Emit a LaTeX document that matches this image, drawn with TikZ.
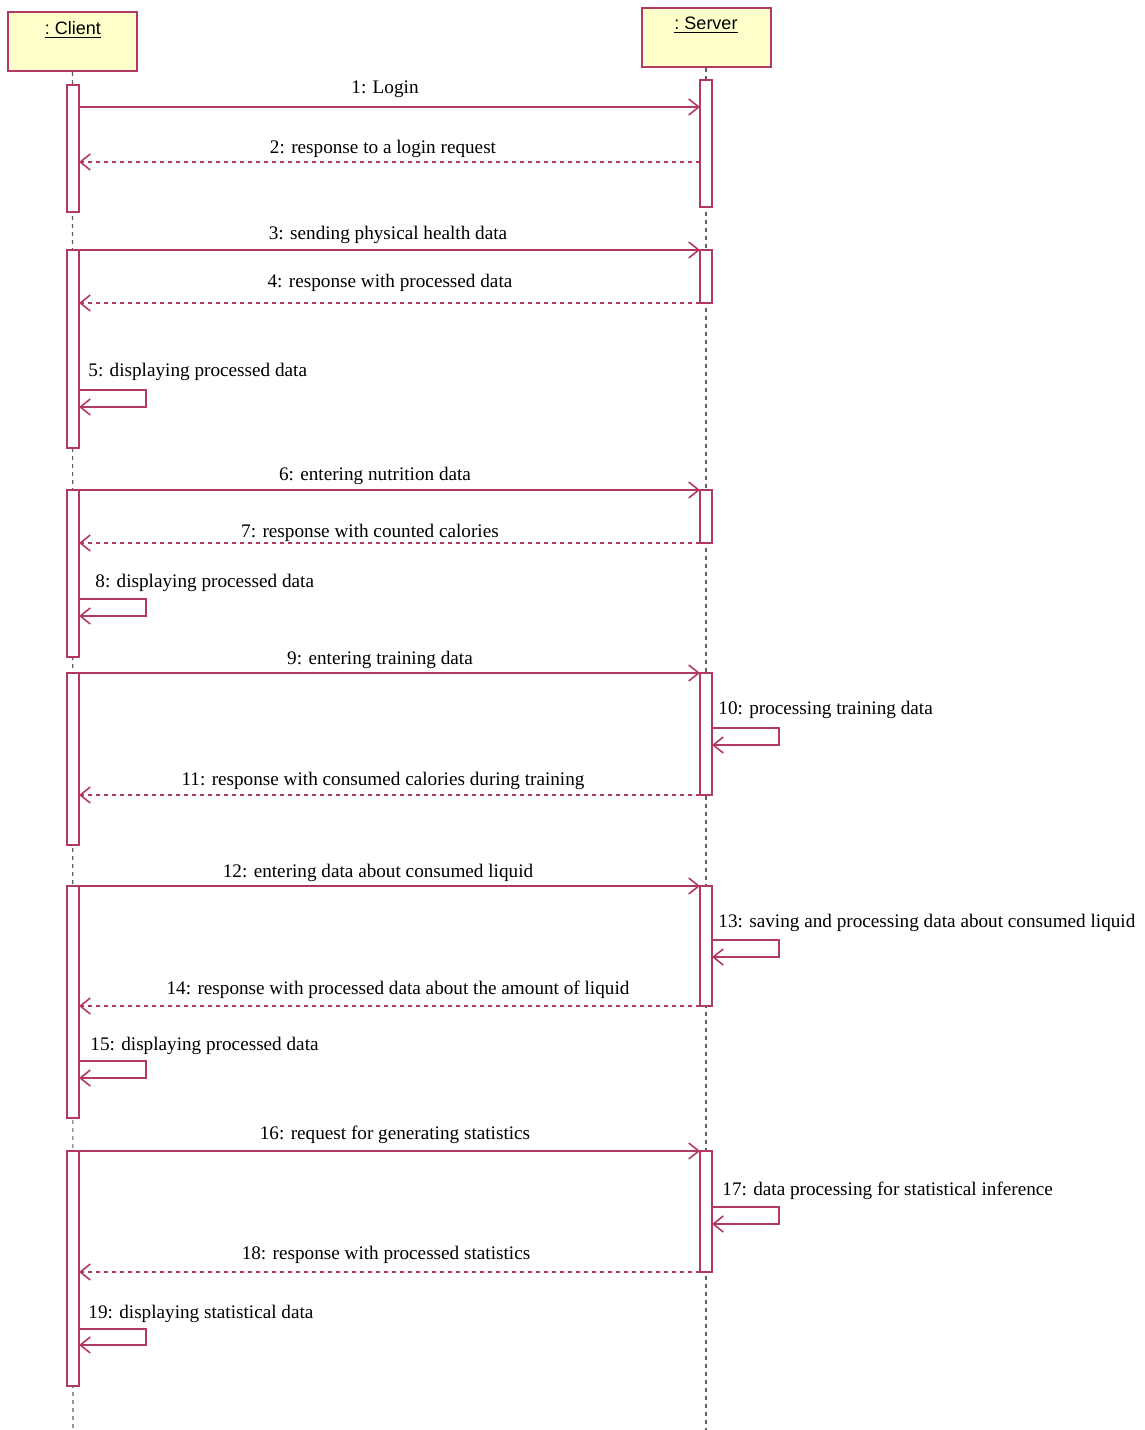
\documentclass[tikz,border=0pt]{standalone}
\usepackage{fontspec}
\setmainfont{Liberation Serif}
\newfontfamily\headfont{Liberation Sans}
\usetikzlibrary{arrows.meta}
\definecolor{umlline}{RGB}{178,58,98}
\definecolor{umlfill}{RGB}{255,255,204}
\definecolor{lifegray}{RGB}{95,95,95}
\tikzset{
  objbox/.style={draw=umlline,fill=umlfill,line width=1pt,minimum width=64.5pt,minimum height=29.5pt,inner sep=0pt},
  objname/.style={font=\headfont\fontsize{9}{10}\selectfont,inner sep=0pt},
  lifeline/.style={draw=lifegray,line width=.6pt,dash pattern=on 2pt off 2pt},
  actbar/.style={draw=umlline,fill=white,line width=.8pt},
  call/.style={draw=umlline,line width=.8pt,-{Straight Barb[length=5pt,width=8pt]}},
  reply/.style={call,dash pattern=on 2pt off 2pt},
  msg/.style={font=\fontsize{9.6}{11}\selectfont,inner sep=0pt,anchor=base},
  selfmsg/.style={msg,anchor=base west},
}
\begin{document}
\begin{tikzpicture}[x=.5pt,y=-.5pt]
  \useasboundingbox (0,0) rectangle (1145,1430);
  \node[objbox] (client) at (72.5,41.5) {};
  \node[objbox] (server) at (706,37) {};
  \node[objname] (clientname) at (73,30) {\underline{:\ Client}};
  \node[objname] (servername) at (706,25) {\underline{:\ Server}};
  \coordinate (clientend) at (73,1430);
  \coordinate (serverend) at (706,1430);
  \draw[lifeline] (client.south) -- (clientend);
  \draw[lifeline] (server.south) -- (serverend);
  \foreach \ya/\yb in {85/212,250/448,490/657,673/845,886/1118,1151/1386}
    \draw[actbar] (67,\ya) rectangle (79,\yb);
  \foreach \ya/\yb in {80/207,250/303,490/543,673/795,886/1006,1151/1272}
    \draw[actbar] (700,\ya) rectangle (712,\yb);
  \foreach \n/\y/\lx/\ly/\txt in {1/107/385/93/1: Login,
      3/250/388/239/3: sending physical health data,
      6/490/375/480/6: entering nutrition data,
      9/673/380/664/9: entering training data,
      12/886/378/877/12: entering data about consumed liquid,
      16/1151/395/1139/16: request for generating statistics}{
    \coordinate (c\n) at (79,\y);
    \coordinate (s\n) at (700,\y);
    \draw[call] (c\n) -- (s\n);
    \node[msg] (m\n) at (\lx,\ly) {\txt};
  }
  \foreach \n/\y/\lx/\ly/\txt in {2/162/383/153/2: response to a login request,
      4/303/390/287/4: response with processed data,
      7/543/370/537/7: response with counted calories,
      11/795/383/785/11: response with consumed calories during training,
      14/1006/398/994/14: response with processed data about the amount of liquid,
      18/1272/386/1259/18: response with processed statistics}{
    \coordinate (s\n) at (700,\y);
    \coordinate (c\n) at (79,\y);
    \draw[reply] (s\n) -- (c\n);
    \node[msg] (m\n) at (\lx,\ly) {\txt};
  }
  \foreach \n/\x/\ya/\yb/\lx/\ly/\txt in {5/79/390/407/88/376/5: displaying processed data,
      8/79/599/616/95/587/8: displaying processed data,
      10/712/728/745/718/714/10: processing training data,
      13/712/940/957/718/927/13: saving and processing data about consumed liquid,
      15/79/1061/1078/90/1050/15: displaying processed data,
      17/712/1207/1224/722/1195/17: data processing for statistical inference,
      19/79/1329/1345/88/1318/19: displaying statistical data}{
    \coordinate (a\n) at (\x,\ya);
    \coordinate (b\n) at (\x,\yb);
    \draw[call] (a\n) -- ++(67,0) |- (b\n);
    \node[selfmsg] (m\n) at (\lx,\ly) {\txt};
  }
\end{tikzpicture}
\end{document}
